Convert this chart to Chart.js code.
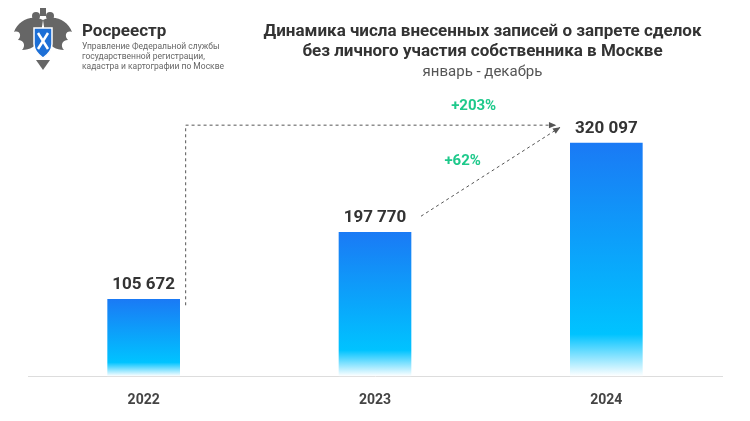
<!DOCTYPE html>
<html>
<head>
<meta charset="utf-8">
<script src="https://cdn.jsdelivr.net/npm/chart.js@4"></script>
<style>
  body { margin: 0; background: #fff; font-family: Roboto, "Noto Sans", sans-serif; }
  #wrap { position: relative; width: 750px; height: 421px; }
  canvas { position: absolute; left: 0; top: 0; }
  .title { position: absolute; left: 250px; width: 465px; top: 20px; text-align: center; color: #333; font-weight: bold; font-size: 17px; line-height: 20px; }
  .sub { font-weight: normal; color: #555; font-size: 15px; }
  .brand { position: absolute; left: 82px; top: 20px; color: #333; font-weight: bold; font-size: 17px; }
  .brand-sub { position: absolute; left: 82px; top: 41px; color: #666; font-size: 8.5px; line-height: 10px; }
</style>
</head>
<body>
<div id="wrap">
  <canvas id="chart" width="750" height="421"></canvas>
  <svg style="position:absolute;left:10px;top:6px" width="66" height="66" viewBox="0 0 66 66">
    <path d="M33 14 C22 8 8 14 4 26 C10 24 12 30 8 34 C14 34 16 40 12 44 C20 44 26 40 30 34 Z" fill="#666"/>
    <path d="M33 14 C44 8 58 14 62 26 C56 24 54 30 58 34 C52 34 50 40 54 44 C46 44 40 40 36 34 Z" fill="#666"/>
    <circle cx="26" cy="10" r="4" fill="#666"/><circle cx="40" cy="10" r="4" fill="#666"/><rect x="30" y="2" width="6" height="8" fill="#666"/>
    <path d="M24 22 H42 V38 C42 46 36 50 33 52 C30 50 24 46 24 38 Z" fill="#1d6fd6" stroke="#fff" stroke-width="1.5"/>
    <path d="M28 27 L38 43 M38 27 L28 43" stroke="#fff" stroke-width="2.5"/>
    <path d="M26 54 L33 64 L40 54 Z" fill="#666"/>
  </svg>
  <div class="brand">Росреестр</div>
  <div class="brand-sub">Управление Федеральной службы<br>государственной регистрации,<br>кадастра и картографии по Москве</div>
  <div class="title">Динамика числа внесенных записей о запрете сделок<br>без личного участия собственника в Москве<br><span class="sub">январь - декабрь</span></div>
</div>
<script>
const years = ['2022', '2023', '2024'];
const records = [105672, 197770, 320097];
const growthLabels = ['+203%', '+62%'];

const fmt = v => v.toLocaleString('ru-RU').replace(/\s/g, ' ');

const overlay = {
  id: 'overlay',
  afterDatasetsDraw(chart) {
    const ctx = chart.ctx, x = chart.scales.x, y = chart.scales.y;
    const meta = chart.getDatasetMeta(0);
    ctx.save();
    ctx.fillStyle = '#333';
    ctx.font = 'bold 17px Roboto';
    ctx.textAlign = 'center';
    ctx.textBaseline = 'bottom';
    meta.data.forEach((bar, i) => ctx.fillText(fmt(records[i]), bar.x, bar.y - 6));

    const arrowHead = (fx, fy, tx, ty) => {
      const a = Math.atan2(ty - fy, tx - fx);
      ctx.setLineDash([]);
      ctx.beginPath();
      ctx.moveTo(tx, ty);
      ctx.lineTo(tx - 8 * Math.cos(a - 0.4), ty - 8 * Math.sin(a - 0.4));
      ctx.lineTo(tx - 8 * Math.cos(a + 0.4), ty - 8 * Math.sin(a + 0.4));
      ctx.closePath();
      ctx.fill();
    };
    ctx.strokeStyle = '#555'; ctx.fillStyle = '#555'; ctx.lineWidth = 1;
    ctx.setLineDash([3, 3]);
    const x0 = x.getPixelForValue(0), x1 = x.getPixelForValue(1), x2 = x.getPixelForValue(2);
    const topY = y.getPixelForValue(records[2]) - 18;
    ctx.beginPath();
    ctx.moveTo(x0 + 42, y.getPixelForValue(records[0]) + 6);
    ctx.lineTo(x0 + 42, topY);
    ctx.lineTo(x2 - 50, topY);
    ctx.stroke();
    arrowHead(x0, topY, x2 - 50, topY);
    ctx.setLineDash([3, 3]);
    const sx = x1 + 46, sy = y.getPixelForValue(records[1]) - 16;
    const ex = x2 - 46, ey = topY + 2;
    ctx.beginPath(); ctx.moveTo(sx, sy); ctx.lineTo(ex, ey); ctx.stroke();
    arrowHead(sx, sy, ex, ey);

    ctx.fillStyle = '#1ec98b';
    ctx.font = 'bold 15px Roboto';
    ctx.textBaseline = 'middle';
    ctx.fillText(growthLabels[0], (x1 + x2) / 2 - 17, topY - 19);
    ctx.fillText(growthLabels[1], (sx + ex) / 2 - 28, (sy + ey) / 2 - 10);
    ctx.restore();
  }
};

new Chart(document.getElementById('chart'), {
  type: 'bar',
  data: {
    labels: years,
    datasets: [{
      data: records,
      barThickness: 72,
      backgroundColor: ctx => {
        const c = ctx.chart, area = c.chartArea;
        if (!area || !c.scales.y) return '#1a7cf5';
        const top = c.scales.y.getPixelForValue(records[ctx.dataIndex]);
        if (!isFinite(top) || !isFinite(area.bottom)) return '#1a7cf5';
        const g = c.ctx.createLinearGradient(0, top, 0, area.bottom);
        g.addColorStop(0, '#1a7af5');
        g.addColorStop(0.82, '#00c3ff');
        g.addColorStop(1, '#ffffff');
        return g;
      }
    }]
  },
  options: {
    responsive: false,
    animation: false,
    layout: { padding: { left: 28, right: 28, top: 85, bottom: 4 } },
    plugins: { legend: { display: false }, tooltip: { enabled: false } },
    scales: {
      x: {
        grid: { display: false },
        border: { color: '#ddd' },
        ticks: { color: '#444', font: { family: 'Roboto', size: 14, weight: 'bold' }, padding: 8 }
      },
      y: { display: false, min: 0, max: 400000 }
    }
  },
  plugins: [overlay]
});
</script>
</body>
</html>
